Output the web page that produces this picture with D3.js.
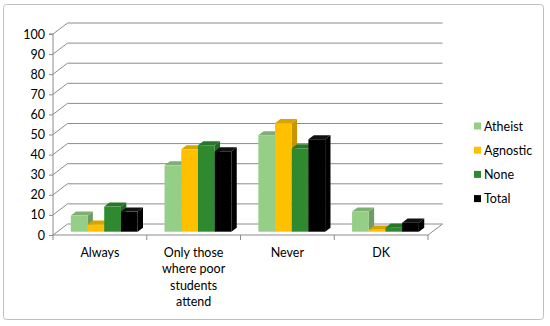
<!DOCTYPE html>
<html><head><meta charset="utf-8">
<script src="https://cdn.jsdelivr.net/npm/d3@7"></script>
<style>body{margin:0;background:#fff}svg{display:block}text{font-family:Lato,"Open Sans",sans-serif;fill:#000}</style>
</head><body><svg id="c" width="550" height="326"></svg>
<script>
const categories = ["Always", "Only those where poor students attend", "Never", "DK"];
const categoryLines = [["Always"], ["Only those", "where poor", "students", "attend"], ["Never"], ["DK"]];
const seriesNames = ["Atheist", "Agnostic", "None", "Total"];
const atheist = [8, 33, 48, 10];
const agnostic = [3.5, 41, 54, 1];
const none = [12.5, 43, 41.5, 2];
const total = [10, 40, 46, 4.5];
const yTicks = [0, 10, 20, 30, 40, 50, 60, 70, 80, 90, 100];

const seriesValues = [atheist, agnostic, none, total];
const colors = {
  front: ["#95CE86", "#FFC000", "#2F8A2F", "#000000"],
  side:  ["#6F9C64", "#C89500", "#226922", "#000000"],
  top:   ["#7FAF72", "#D9A300", "#27772A", "#111111"]
};

const svg = d3.select("#c");
// outer border
svg.append("rect").attr("x", 3.5).attr("y", 4.5).attr("width", 540).attr("height", 315)
  .attr("rx", 3).attr("fill", "none").attr("stroke", "#BFBFBF").attr("stroke-width", 1);

const X0 = 53, X1 = 428;
const DX = 14.5, DY = 11; // full depth offset
const x = d3.scaleBand().domain(categories).range([X0, X1]);
const y = d3.scaleLinear().domain([0, 100]).range([235, 34]);

const g = svg.append("g");
const grid = g.append("g");
yTicks.forEach(t => {
  const yy = y(t);
  grid.append("path")
    .attr("d", `M${X0},${yy}L${X0 + DX},${yy - DY}L${X1 + DX},${yy - DY}`)
    .attr("fill", "none").attr("stroke", "#8C8C8C").attr("stroke-width", 1);
});
// floor right edge
grid.append("path").attr("d", `M${X0},${y(0)}L${X1},${y(0)}L${X1 + DX},${y(0) - DY}`)
  .attr("fill", "none").attr("stroke", "#8C8C8C");

// y axis
const yAxis = d3.axisLeft(y).tickValues(yTicks).tickSize(4).tickPadding(4);
const ya = g.append("g").attr("transform", `translate(${X0},0)`).call(yAxis);
ya.select(".domain").attr("stroke", "#8C8C8C").attr("d", `M-4,${y(100)}H0V${y(0)}`);
ya.selectAll(".tick line").attr("stroke", "#8C8C8C");
ya.selectAll(".tick text").style("font-family", "Lato, sans-serif").style("font-size", "12.5px").attr("fill", "#000");

// x ticks
const bounds = categories.map(c => x(c)).concat([X1]);
bounds.forEach(b => {
  g.append("line").attr("x1", b).attr("x2", b).attr("y1", y(0)).attr("y2", y(0) + 5)
    .attr("stroke", "#8C8C8C");
});

// bars
const f0 = 0.3, fd = 0.37;
const bw = x.bandwidth();
const barW = 16.7;
const groupOffset = (bw - barW * 4) / 2;
const inner = d3.scaleBand().domain(seriesNames).range([0, barW * 4]);
const bars = g.append("g");
categories.forEach((c, ci) => {
  seriesNames.forEach((s, si) => {
    const v = seriesValues[si][ci];
    const bx0 = x(c) + groupOffset + inner(s) + f0 * DX;
    const bx1 = bx0 + inner.bandwidth();
    const base = y(0) - f0 * DY;
    const top = base - (y(0) - y(v));
    const dx = fd * DX, dy = fd * DY;
    bars.append("polygon")
      .attr("points", `${bx1},${base} ${bx1},${top} ${bx1 + dx},${top - dy} ${bx1 + dx},${base - dy}`)
      .attr("fill", colors.side[si]);
    bars.append("polygon")
      .attr("points", `${bx0},${top} ${bx1},${top} ${bx1 + dx},${top - dy} ${bx0 + dx},${top - dy}`)
      .attr("fill", colors.top[si]);
    bars.append("rect").attr("x", bx0).attr("y", top).attr("width", bx1 - bx0).attr("height", base - top)
      .attr("fill", colors.front[si]);
  });
});

// category labels
categories.forEach((c, ci) => {
  const t = g.append("text").attr("text-anchor", "middle").style("font-size", "12.5px")
    .attr("x", x(c) + bw / 2).attr("y", 257);
  categoryLines[ci].forEach((line, li) => {
    t.append("tspan").attr("x", x(c) + bw / 2).attr("dy", li === 0 ? 0 : 16.3).text(line);
  });
});

// legend
const leg = g.append("g");
seriesNames.forEach((s, si) => {
  const ly = 126 + si * 24.2;
  leg.append("rect").attr("x", 474).attr("y", ly - 3.5).attr("width", 7).attr("height", 7).attr("fill", colors.front[si]);
  leg.append("text").attr("x", 484).attr("y", ly + 4.5).style("font-size", "12.5px").text(s);
});
</script></body></html>
